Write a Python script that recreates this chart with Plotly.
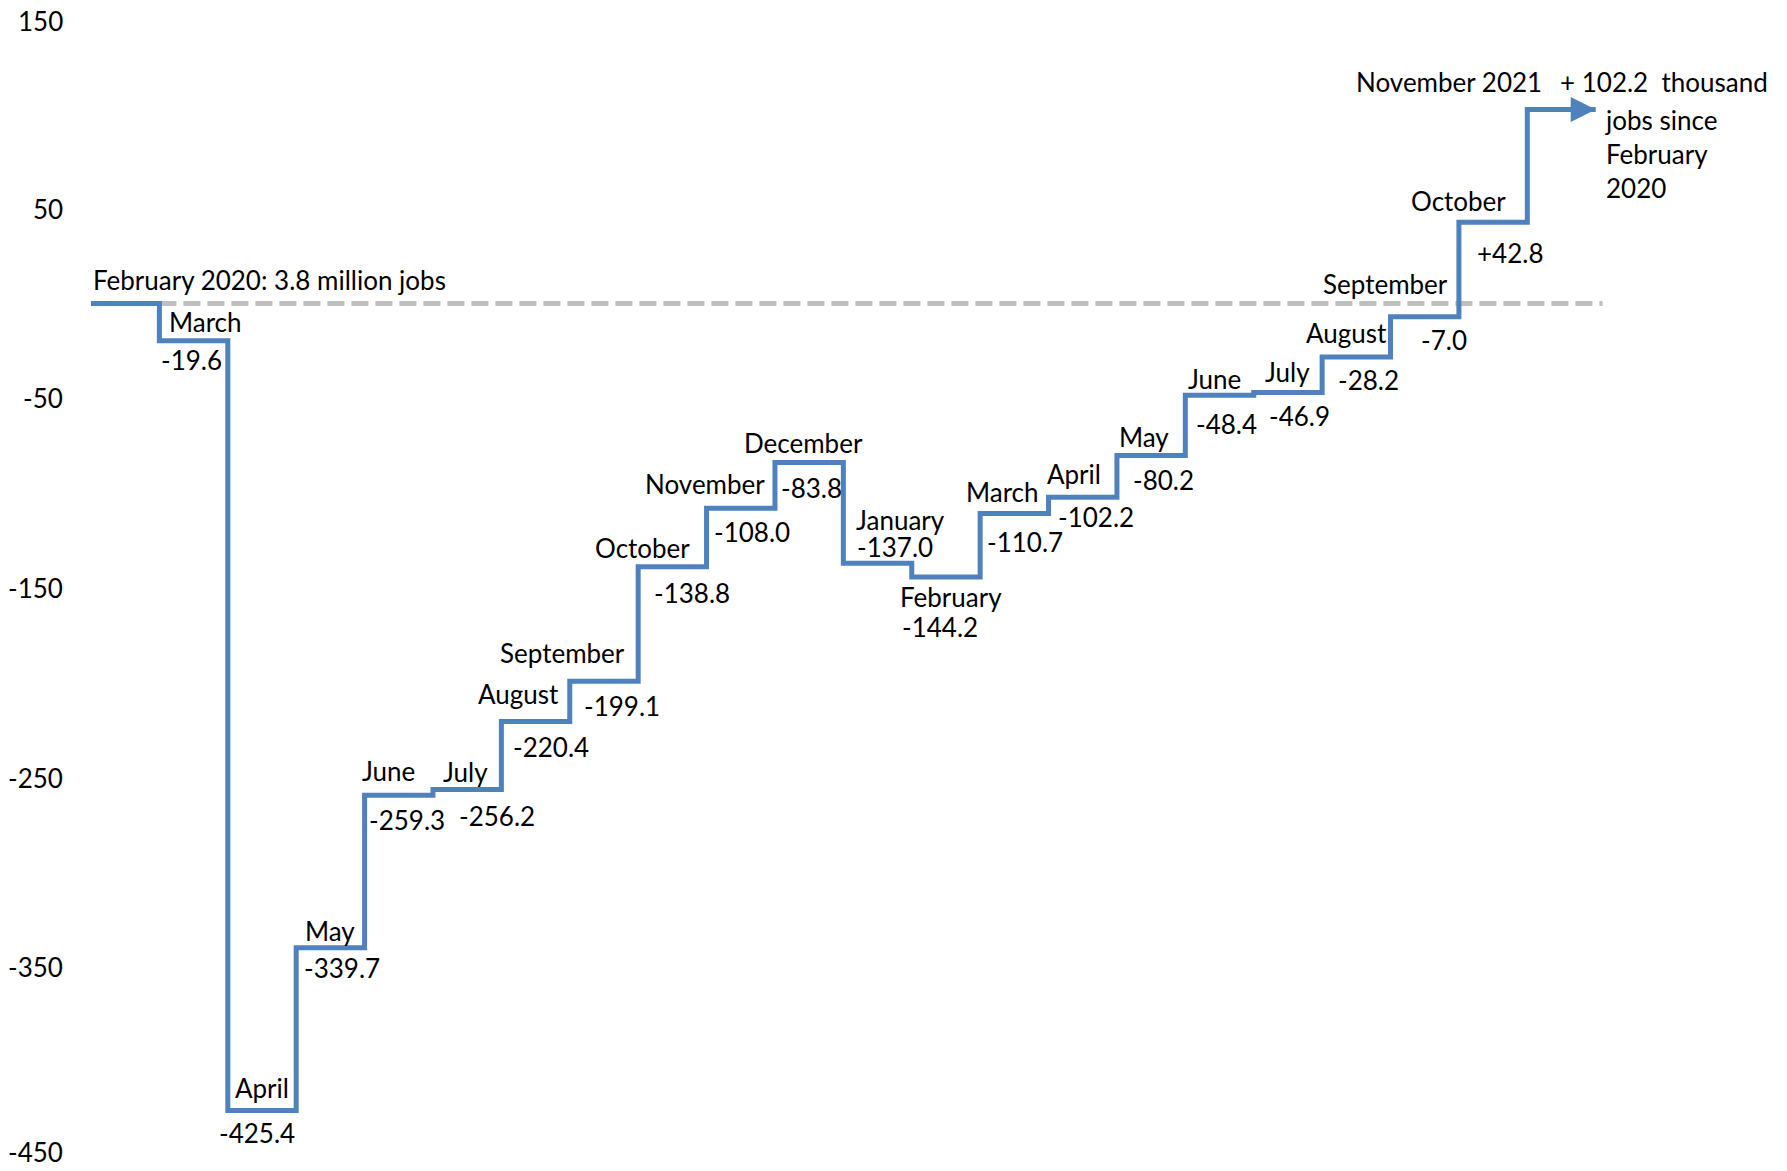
import plotly.graph_objects as go

# Cumulative change in jobs since February 2020 (thousands)
months = ["February 2020", "March", "April", "May", "June", "July", "August",
          "September", "October", "November", "December", "January", "February",
          "March", "April", "May", "June", "July", "August", "September",
          "October", "November 2021"]
changes = [0.0, -19.6, -425.4, -339.7, -259.3, -256.2, -220.4, -199.1, -138.8,
           -108.0, -83.8, -137.0, -144.2, -110.7, -102.2, -80.2, -48.4, -46.9,
           -28.2, -7.0, 42.8, 102.2]
y_ticks = [150, 50, -50, -150, -250, -350, -450]

BLUE = "#4F81BD"
GREY = "#BFBFBF"
FONT = "Lato"
FS = 26

# label positions (x in month steps, y in axis units): month name, value
month_pos = [(0.0, 12.6), (1.67, -9.6), (2.5, -413.4), (3.5, -330.6), (4.35, -246.6),
             (5.48, -247.2), (6.25, -205.8), (6.9, -184.2), (8.07, -129.0),
             (8.97, -95.4), (10.42, -73.8), (11.83, -114.0), (12.58, -154.8),
             (13.33, -99.6), (14.37, -90.0), (15.4, -70.2), (16.43, -39.6),
             (17.5, -36.0), (18.35, -15.6), (18.92, 10.2), (20.0, 54.0), (19.85, 117.0)]
value_pos = [None, (1.47, -30.0), (2.42, -437.4), (3.67, -350.4), (4.62, -272.4),
             (5.93, -270.0), (6.73, -234.0), (7.77, -212.4), (8.78, -152.4),
             (9.67, -120.6), (10.53, -97.2), (11.75, -128.4), (12.42, -170.4),
             (13.65, -126.0), (14.7, -112.8), (15.68, -93.0), (16.6, -63.6),
             (17.67, -59.4), (18.68, -40.2), (19.78, -19.2), (20.75, 26.4), None]

n = len(changes)
xs = list(range(n)) + [n]
ys = changes + [changes[-1]]

fig = go.Figure()

# baseline: February 2020 level
fig.add_shape(type="line", x0=1, x1=n + 0.1, y0=0, y1=0, layer="below",
              line=dict(color=GREY, width=5, dash="17px,7px"))

fig.add_trace(go.Scatter(x=xs, y=ys, mode="lines", line_shape="hv",
                         line=dict(color=BLUE, width=5), hoverinfo="skip",
                         showlegend=False))

# arrow head at the end
fig.add_annotation(x=n, y=changes[-1], ax=n - 0.6, ay=changes[-1], axref="x", ayref="y",
                   xref="x", yref="y", text="", showarrow=True, arrowhead=2,
                   arrowsize=1.0, arrowwidth=5, arrowcolor=BLUE)

def fmt(v):
    return f"+{v:.1f}" if v > 0 else f"{v:.1f}"

for i, m in enumerate(months):
    mx, my = month_pos[i]
    text = m
    anchor = "center"
    if i == 0:
        text = "February 2020: 3.8 million jobs"
        anchor = "left"
    fig.add_annotation(x=mx, y=my, text=text, showarrow=False, xanchor=anchor,
                       yanchor="middle", font=dict(family=FONT, size=FS, color="black"))
    if value_pos[i] is not None:
        vx, vy = value_pos[i]
        fig.add_annotation(x=vx, y=vy, text=fmt(changes[i]), showarrow=False,
                           xanchor="center", yanchor="middle",
                           font=dict(family=FONT, size=FS, color="black"))

fig.add_annotation(x=21.45, y=117.0, text=f"{fmt(changes[-1]).replace('+', '+ ')}  thousand",
                   showarrow=False, xanchor="left", yanchor="middle",
                   font=dict(family=FONT, size=FS, color="black"))
fig.add_annotation(x=22.1, y=79.0, text="jobs since<br>February<br>2020", align="left",
                   showarrow=False, xanchor="left", yanchor="middle",
                   font=dict(family=FONT, size=FS, color="black"))

# y tick labels drawn as annotations so the ones at the very edges stay visible
for t in y_ticks:
    shift = 0
    if t == y_ticks[0]:
        shift = -2
    elif t == y_ticks[-1]:
        shift = 5
    fig.add_annotation(x=0, xref="paper", y=t, yref="y", text=str(t), showarrow=False,
                       xanchor="right", yanchor="middle", xshift=-10, yshift=shift,
                       font=dict(family=FONT, size=FS, color="black"))

# page body has an 8px margin, so the figure is shrunk and shifted to compensate
fig.update_layout(
    width=1771, height=1155,
    margin=dict(l=67, r=0, t=10, b=5),
    plot_bgcolor="white", paper_bgcolor="white",
    font=dict(family=FONT, size=FS, color="black"),
    showlegend=False,
)
fig.update_xaxes(range=[-0.234, 24.68], visible=False)
fig.update_yaxes(range=[-450.5, 150.5], showticklabels=False, showgrid=False,
                 zeroline=False, showline=False, ticks="")

fig.write_html("out.html")
